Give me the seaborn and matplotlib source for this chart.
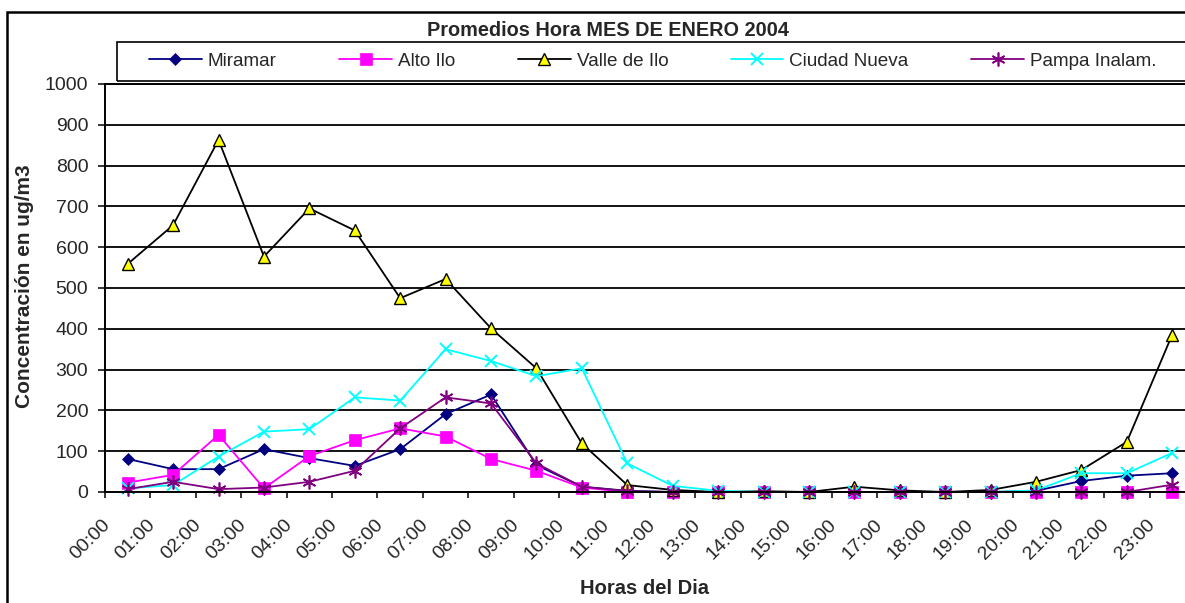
import numpy as np
import pandas as pd
import matplotlib
matplotlib.use("Agg")
import matplotlib.pyplot as plt
import matplotlib.patches as mpatches
from matplotlib.transforms import ScaledTranslation
import seaborn as sns

hours = ["00:00", "01:00", "02:00", "03:00", "04:00", "05:00", "06:00", "07:00",
         "08:00", "09:00", "10:00", "11:00", "12:00", "13:00", "14:00", "15:00",
         "16:00", "17:00", "18:00", "19:00", "20:00", "21:00", "22:00", "23:00"]

miramar = [81, 56, 56, 105, 83, 64, 105, 191, 239, 66, 13, 3, 0, 0, 0, 0,
           0, 0, 0, 0, 3, 27, 40, 46]
alto_ilo = [23, 42, 140, 9, 88, 127, 156, 136, 81, 52, 11, 0, 0, 0, 0, 0,
            0, 0, 0, 0, 0, 0, 0, 0]
valle_ilo = [559, 654, 863, 577, 695, 641, 475, 522, 401, 303, 119, 17, 5, 0, 2, 0,
             13, 4, 0, 5, 25, 54, 123, 386]
ciudad_nueva = [9, 17, 87, 148, 154, 232, 224, 350, 321, 284, 303, 70, 15, 3, 0, 0,
                0, 0, 0, 0, 4, 46, 46, 96]
pampa = [7, 25, 7, 11, 25, 52, 156, 232, 217, 70, 13, 2, 0, 0, 0, 0,
         0, 0, 0, 0, 0, 0, 0, 18]

series_names = ["Miramar", "Alto Ilo", "Valle de Ilo", "Ciudad Nueva", "Pampa Inalam."]
series_values = [miramar, alto_ilo, valle_ilo, ciudad_nueva, pampa]

title = "Promedios Hora MES DE ENERO 2004"
ylabel = "Concentración en ug/m3"
xlabel = "Horas del Dia"

sns.set_style("white")
plt.rcParams["font.family"] = ["Liberation Sans", "DejaVu Sans"]

W, H = 1185, 603
fig = plt.figure(figsize=(W / 100, H / 100), dpi=100)
fig.patch.set_facecolor("white")

ax = fig.add_axes([105 / W, 1 - 492 / H, 1090 / W, 408 / H])

styles = [
    dict(color="#000080", marker="D", markersize=6, markerfacecolor="#000080",
         markeredgecolor="#000080", markeredgewidth=0.5),
    dict(color="#FF00FF", marker="s", markersize=8, markerfacecolor="#FF00FF",
         markeredgecolor="#FF00FF", markeredgewidth=0.5),
    dict(color="#000000", marker="^", markersize=9, markerfacecolor="#FFFF00",
         markeredgecolor="#000000", markeredgewidth=1.0),
    dict(color="#00FFFF", marker="x", markersize=9, markeredgecolor="#00FFFF",
         markeredgewidth=1.4),
    dict(color="#800080", marker=(6, 2, 0), markersize=10, markeredgecolor="#800080",
         markeredgewidth=1.2),
]

pos = np.arange(len(hours))
handles = []
for name, vals, st in zip(series_names, series_values, styles):
    df = pd.DataFrame({"x": pos, "y": vals})
    n_before = len(ax.lines)
    sns.lineplot(data=df, x="x", y="y", ax=ax, linewidth=1.3, label=name,
                 legend=False, errorbar=None, sort=False, clip_on=False, **st)
    ln = ax.lines[n_before]
    ln.set_label(name)
    handles.append(ln)

ax.set_xlim(-0.5, len(hours) - 0.5)
ax.set_ylim(0, 1000)
ax.set_yticks(np.arange(0, 1001, 100))
ax.set_xticks(pos)
ax.set_xticklabels(hours, rotation=45, ha="right", va="center",
                   rotation_mode="anchor", fontsize=14)
ax.set_xticks(np.arange(-0.5, len(hours), 1), minor=True)
ax.tick_params(axis="x", which="major", length=0, pad=22)
ax.tick_params(axis="x", which="minor", length=4.5, width=1.1, direction="out",
               color="black", bottom=True)
ax.tick_params(axis="y", which="major", length=5, width=1.1, direction="out",
               color="black", pad=7, labelsize=14, left=True)
ax.set_xlabel("")
ax.set_ylabel("")

offset = ScaledTranslation(-0.2, 0, fig.dpi_scale_trans)
for lab in ax.get_xticklabels():
    lab.set_transform(lab.get_transform() + offset)

ax.grid(axis="y", color="black", linewidth=1.3)
ax.grid(axis="x", visible=False)
ax.set_axisbelow(True)
for side in ["left", "bottom", "top"]:
    ax.spines[side].set_color("black")
    ax.spines[side].set_linewidth(1.4)
ax.spines["right"].set_visible(False)

# outer chart border
fig.patches.append(mpatches.Rectangle((7 / W, -0.2), 1.2, 1 - 11.5 / H + 0.2,
                                      transform=fig.transFigure, fill=False,
                                      edgecolor="black", linewidth=1.8, zorder=0))
# legend box
fig.patches.append(mpatches.Rectangle((117 / W, 1 - 81 / H), 1.2, 39 / H,
                                      transform=fig.transFigure, fill=False,
                                      edgecolor="black", linewidth=1.2, zorder=1))

fig.legend(handles=handles, labels=series_names, ncol=5, loc="center left",
           bbox_to_anchor=(149 / W, 1 - 61 / H), frameon=False, fontsize=13.6,
           handlelength=2.8, handletextpad=0.32, columnspacing=3.3,
           borderpad=0, borderaxespad=0)

fig.text(608 / W, 1 - 36.5 / H, title, ha="center", va="baseline",
         fontsize=14.3, fontweight="bold")
fig.text(25 / W, 1 - 286 / H, ylabel, rotation=90, ha="center", va="center",
         fontsize=15, fontweight="bold")
fig.text(645 / W, 1 - 588 / H, xlabel, ha="center", va="center",
         fontsize=14.5, fontweight="bold")

fig.savefig("out.png", dpi=100)
